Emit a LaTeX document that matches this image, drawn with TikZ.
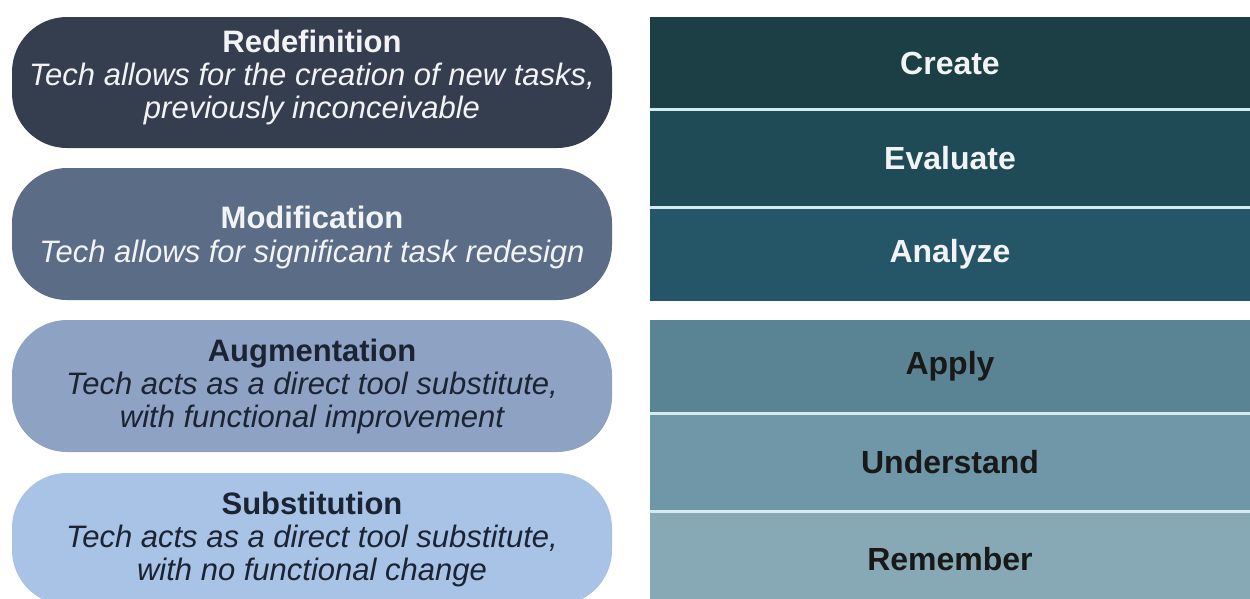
\documentclass[tikz,border=0pt]{standalone}
\usepackage{fontspec}
\setmainfont{Liberation Sans}
\definecolor{cRed}{HTML}{353E4F}
\definecolor{cMod}{HTML}{5B6C86}
\definecolor{cAug}{HTML}{8EA2C3}
\definecolor{cSub}{HTML}{A8C3E6}
\definecolor{cCre}{HTML}{1C3F45}
\definecolor{cEva}{HTML}{1F4B56}
\definecolor{cAna}{HTML}{255667}
\definecolor{cApp}{HTML}{5A8494}
\definecolor{cUnd}{HTML}{6F97A7}
\definecolor{cRem}{HTML}{87A9B5}
\definecolor{cSep}{HTML}{D3EBF1}
\definecolor{cDarkTxt}{HTML}{1B2433}
\definecolor{cLightTxt}{HTML}{F2F3F5}
\tikzset{
  pill/.style={rounded corners=55pt, minimum width=600pt, align=center, inner sep=0pt, font=\fontsize{31}{33}\selectfont},
  pilltext/.style={align=center, inner sep=0pt, font=\fontsize{31}{33}\selectfont},
  level/.style={minimum width=600pt, inner sep=0pt, font=\fontsize{32}{34}\selectfont\bfseries},
  sep/.style={draw=cSep, line width=3pt}
}
\newcommand{\ttl}[1]{{\fontsize{31}{33}\selectfont\bfseries #1}}
\begin{document}
\begin{tikzpicture}[x=1pt,y=-1pt]
\useasboundingbox (0,0) rectangle (1250,598);
\clip (0,0) rectangle (1250,598);
% left pills
\node[pill, fill=cRed, minimum height=131pt] (redef) at (312,82.5) {};
\node[pilltext, text=cLightTxt] (redeftxt) at (312,77)
  {\ttl{Redefinition}\\ \itshape Tech allows for the creation of new tasks,\\ \itshape previously inconceivable};
\node[pill, fill=cMod, minimum height=132pt] (modif) at (312,234) {};
\node[pilltext, text=cLightTxt, font=\fontsize{31}{34}\selectfont] (modiftxt) at (312,237)
  {\ttl{Modification}\\ \itshape Tech allows for significant task redesign};
\node[pill, fill=cAug, text=cDarkTxt, minimum height=132pt] (augm) at (312,386)
  {\ttl{Augmentation}\\ \itshape Tech acts as a direct tool substitute,\\ \itshape with functional improvement};
\node[pill, fill=cSub, text=cDarkTxt, minimum height=132pt] (subst) at (312,539)
  {\ttl{Substitution}\\ \itshape Tech acts as a direct tool substitute,\\ \itshape with no functional change};
% right levels
\node[level, fill=cCre, text=cLightTxt, minimum height=93pt] (create) at (950,63) {Create};
\node[level, fill=cEva, text=cLightTxt, minimum height=97pt] (evaluate) at (950,158.5) {Evaluate};
\node[level, fill=cAna, text=cLightTxt, minimum height=93pt] (analyze) at (950,254) {Analyze};
\node[level, fill=cApp, text=black!90, minimum height=94pt] (apply) at (950,366.5) {Apply};
\node[level, fill=cUnd, text=black!90, minimum height=98pt] (understand) at (950,462) {Understand};
\node[level, fill=cRem, text=black!90, minimum height=96pt] (remember) at (950,559) {Remember};
\draw[sep] (create.south west) -- (create.south east);
\draw[sep] (evaluate.south west) -- (evaluate.south east);
\draw[sep] (apply.south west) -- (apply.south east);
\draw[sep] (understand.south west) -- (understand.south east);
\end{tikzpicture}
\end{document}
